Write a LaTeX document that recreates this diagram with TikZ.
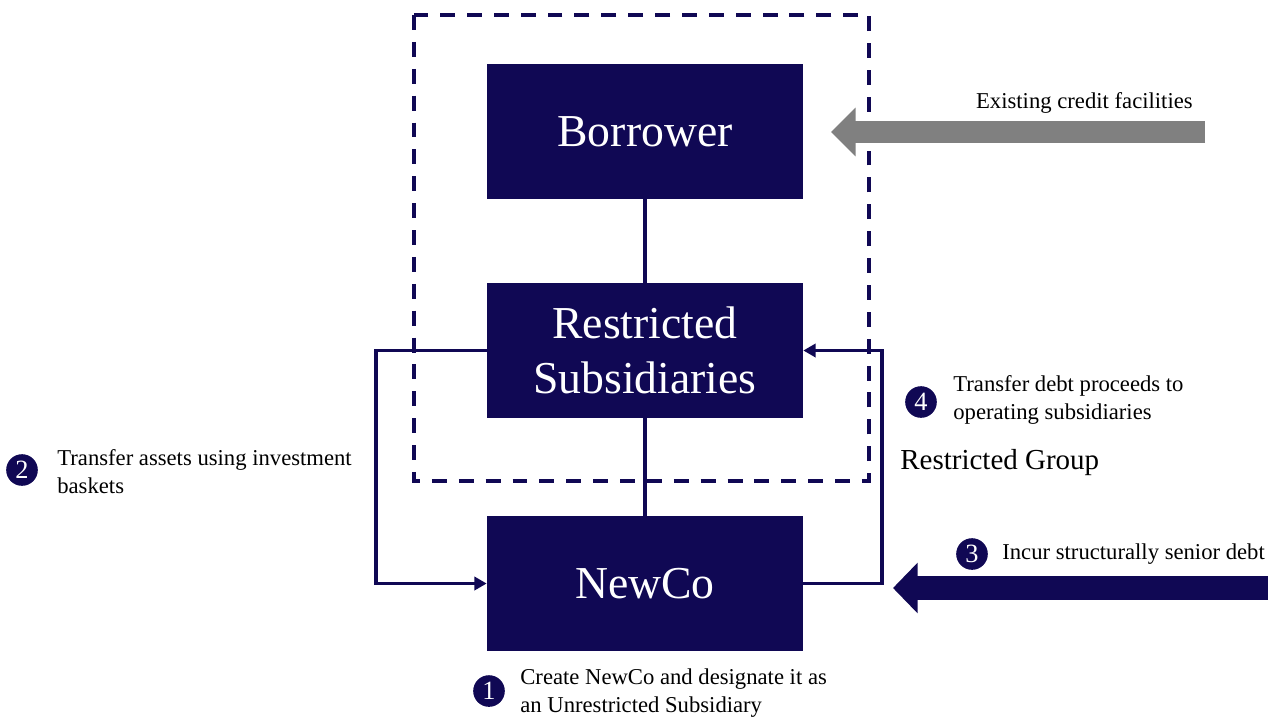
\documentclass[tikz,border=0pt]{standalone}
\usepackage{fontspec}
\setmainfont{Liberation Serif}
\usetikzlibrary{arrows.meta}
\tikzset{box/.style={fill=navy,text=white,minimum width=6.32cm,minimum height=2.7cm,align=center,font=\fontsize{26}{31}\selectfont}}
\tikzset{l/.style={font=\fontsize{12.9}{16}\selectfont,inner sep=0pt,align=left,anchor=west}}
\tikzset{num/.style={circle,fill=navy,text=white,inner sep=0pt,minimum size=18pt,font=\fontsize{15}{15}\selectfont}}
\tikzset{link/.style={navy,line width=1.9pt}}
\definecolor{navy}{RGB}{16,8,84}
\definecolor{arrowgray}{RGB}{128,128,128}

\begin{document}
\begin{tikzpicture}[x=0.02cm,y=-0.02cm]
        \useasboundingbox (0,0) rectangle (1268,718);
        \node[box] (B) at (645,131.5) {Borrower};
        \node[box] (RS) at (645,350.5) {Restricted\\Subsidiaries};
        \node[box] (NC) at (645,583.5) {NewCo};
        \draw[link] (B) -- (RS);
        \draw[link] (RS) -- (NC);
        % investment baskets loop and debt proceeds loop
        \draw[link,-{Triangle[length=7pt,width=7.5pt]}] (RS.west) -- (376,350.5) |- (NC.west);
        \draw[link,-{Triangle[length=7pt,width=7.5pt]}] (NC.east) -- (882,583.5) |- (RS.east);
        \draw[navy,line width=1.9pt,dash pattern=on 8.5pt off 6.8pt] (414,15) rectangle (869,481);
        % incoming facilities
        \coordinate (gs) at (1205,132);
        \coordinate (ge) at (831,132);
        \draw[arrowgray,line width=12.5pt,-{Triangle[length=14pt,width=27pt]}] (gs) -- (ge);
        \coordinate (ds) at (1270,588);
        \coordinate (de) at (893,588);
        \draw[navy,line width=14pt,-{Triangle[length=14pt,width=28pt]}] (ds) -- (de);
        \node[l,anchor=east] (ecf) at (1193,103) {Existing credit facilities};
        \node[l,font=\fontsize{16.5}{20}\selectfont] (RG) at (900,463) {Restricted Group};
        % numbered steps
        \node[num] (n1) at (489,691) {1};
        \node[l] (t1) at (520,693) {Create NewCo and designate it as\\an Unrestricted Subsidiary};
        \node[num] (n2) at (22,470) {2};
        \node[l] (t2) at (57,472) {Transfer assets using investment\\baskets};
        \node[num] (n3) at (972,554) {3};
        \node[l] (t3) at (1002,554) {Incur structurally senior debt};
        \node[num] (n4) at (921,402) {4};
        \node[l] (t4) at (953,400) {Transfer debt proceeds to\\operating subsidiaries};
      \end{tikzpicture}
\end{document}
